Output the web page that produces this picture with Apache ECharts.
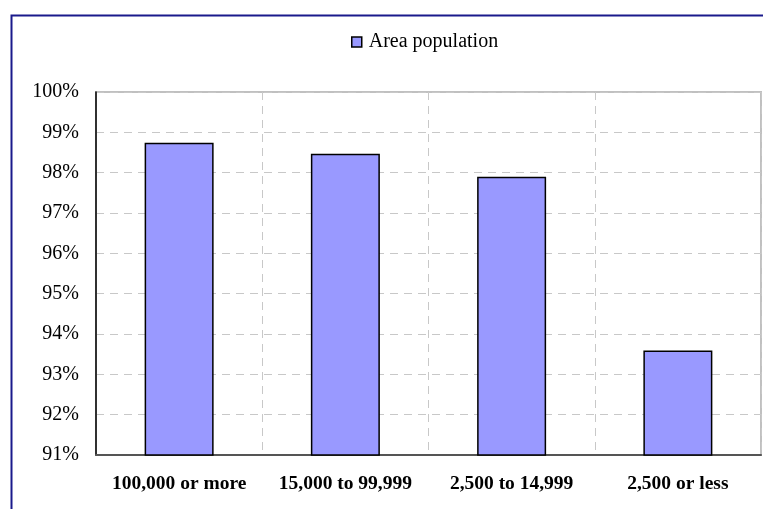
<!DOCTYPE html>
<html>
<head>
<meta charset="utf-8">
<script src="https://cdn.jsdelivr.net/npm/echarts@6/dist/echarts.min.js"></script>
<style>
html,body{margin:0;padding:0;background:#fff;}
#chart{width:763px;height:509px;}
</style>
</head>
<body>
<div id="chart"></div>
<script>
var categories = ['100,000 or more', '15,000 to 99,999', '2,500 to 14,999', '2,500 or less'];
var seriesName = 'Area population';
var values = [98.74, 98.47, 97.90, 93.59];
var yMin = 91, yMax = 100, yStep = 1;

var chart = echarts.init(document.getElementById('chart'));
var font = 'Liberation Serif, Times New Roman, serif';
chart.setOption({
  animation: false,
  backgroundColor: '#fff',
  textStyle: {fontFamily: font},
  graphic: [{
    type: 'rect', left: 9, top: 13, silent: true, z: 100,
    shape: {width: 770, height: 520},
    style: {fill: 'none', stroke: '#1a1a8c', lineWidth: 2}
  }],
  legend: {
    data: [seriesName],
    top: 27, left: 346,
    itemWidth: 10, itemHeight: 10, itemGap: 6,
    icon: 'rect',
    textStyle: {fontFamily: font, fontSize: 20, color: '#000', padding: [0, 0, 0, 2]},
    itemStyle: {borderColor: '#000', borderWidth: 1.5}
  },
  grid: {
    left: 96, right: 2, top: 92, bottom: 54,
    show: true, borderColor: '#c0c0c0', borderWidth: 2, backgroundColor: '#fff'
  },
  xAxis: {
    type: 'category',
    data: categories,
    axisLine: {lineStyle: {color: '#555', width: 2}},
    axisTick: {show: false},
    axisLabel: {interval: 0, fontFamily: font, fontSize: 19.5, fontWeight: 'bold', color: '#000', margin: 19},
    splitLine: {show: true, interval: 0, lineStyle: {color: '#c8c8c8', type: [8, 6], width: 1}}
  },
  yAxis: {
    type: 'value',
    min: yMin, max: yMax, interval: yStep,
    axisLine: {show: true, lineStyle: {color: '#000', width: 1.5}},
    axisTick: {show: false},
    axisLabel: {fontFamily: font, fontSize: 20, color: '#000', margin: 17, formatter: '{value}%'},
    splitLine: {show: true, lineStyle: {color: '#c8c8c8', type: [8, 6], width: 1}}
  },
  series: [{
    name: seriesName,
    type: 'bar',
    data: values,
    barWidth: '41.5%',
    itemStyle: {color: '#9999ff', borderColor: '#000', borderWidth: 1.5}
  }]
});
</script>
</body>
</html>
